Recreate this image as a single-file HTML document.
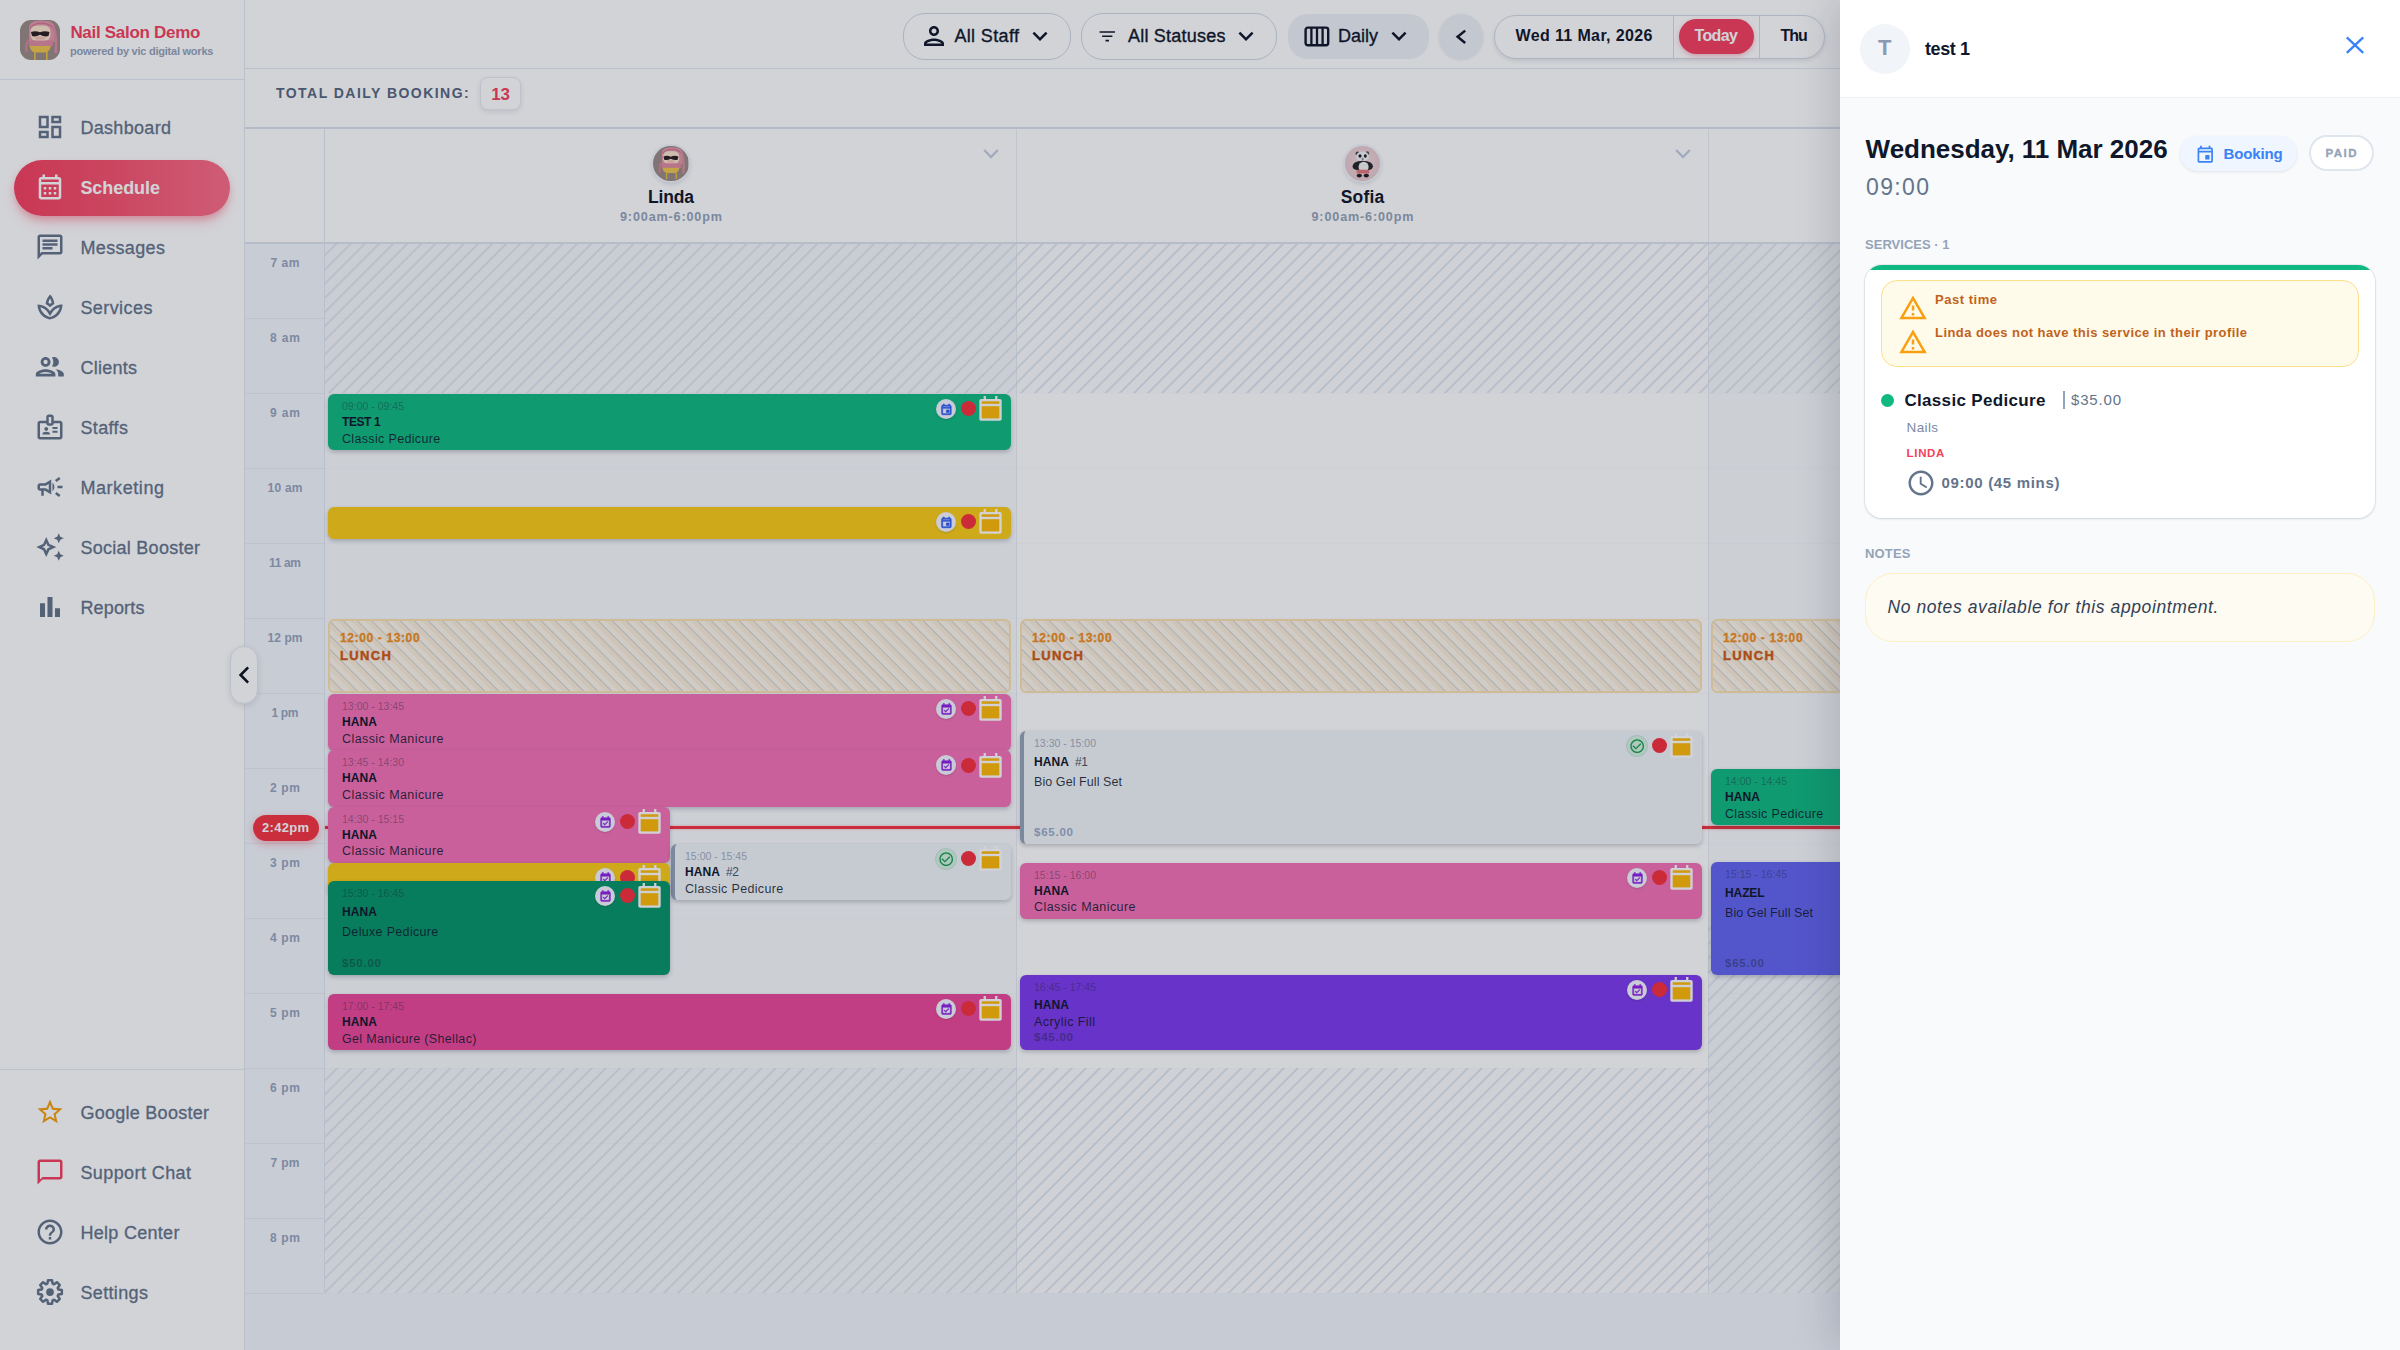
<!DOCTYPE html>
<html lang="en"><head><meta charset="utf-8"><title>Nail Salon Demo - Schedule</title><style>
html,body{margin:0;padding:0;}
body{width:2400px;height:1350px;overflow:hidden;position:relative;background:#fff;font-family:"Liberation Sans", sans-serif;}
.b{position:absolute;}
.ic{position:absolute;display:block;overflow:hidden;}
.t{position:absolute;white-space:nowrap;display:block;}
</style></head><body>
<div class="b" style="left:0px;top:0px;width:244px;height:1350px;background:#fff;"></div>
<div class="b" style="left:244px;top:0px;width:1px;height:1350px;background:#e3e9f2;"></div>
<div class="b" style="left:0px;top:79px;width:244px;height:1px;background:#e3e9f2;"></div>
<div class="b" style="left:0px;top:1069px;width:244px;height:1px;background:#e3e9f2;"></div>
<svg class="ic" style="left:20px;top:20px;width:40px;height:40px;border-radius:11px" viewBox="0 0 40 40"><rect width="40" height="40" fill="#9a8b86"/>
<path d="M9 27V8Q9 .5 20 .5h2Q34.500 .5 34.500 8v14H9z" fill="#e597ab"/>
<path d="M10 8Q15 3.200 21 3.200 28.500 3.200 33.500 8" stroke="#cd7890" stroke-width="1.300" fill="none"/>
<path d="M33.200 6Q37.200 16 35.600 33" stroke="#dd8ea3" stroke-width="2.600" fill="none"/>
<path d="M8.200 20Q5.200 26 6.600 32" stroke="#d98498" stroke-width="2.400" fill="none"/>
<rect x="10.500" y="5.500" width="20" height="15.500" rx="6" fill="#fbe4cc"/>
<path d="M11 12Q15.500 10.300 20 12.300 24.500 10.300 29.500 12l-1 4Q24.500 17.200 20 14.800 15.500 17.200 12 16z" fill="#2a1f22"/>
<ellipse cx="20" cy="18.200" rx="5" ry="1.600" fill="#f0b3b0" opacity=".7"/>
<rect x="9" y="20.500" width="24" height="5.600" fill="#dd8ca1"/>
<path d="M9.500 26H31q-2 6-5.500 6.500H15Q11 32 9.500 26z" fill="#eec64b"/>
<rect x="14" y="32" width="1.700" height="8" fill="#e8c040"/><rect x="26" y="32" width="1.700" height="8" fill="#e8c040"/></svg>
<span class="t" id="t1" style="left:70.40px;top:24.21px;font-size:17px;line-height:17px;color:#f43f5e;font-weight:700;letter-spacing:-0.296px;">Nail Salon Demo</span>
<span class="t" id="t2" style="left:70.00px;top:45.69px;font-size:11px;line-height:11px;color:#94a3b8;font-weight:700;letter-spacing:-0.236px;">powered by vic digital works</span>
<div class="b" style="left:14px;top:160px;width:216px;height:56px;border-radius:28px;background:linear-gradient(90deg,#f43f5e 0%,#f7546f 50%,#fb6d87 100%);box-shadow:0 8px 14px -4px rgba(244,63,94,.38),0 3px 6px rgba(244,63,94,.2);"></div>
<svg class="ic" style="left:35.00px;top:112.40px;width:30px;height:30px" viewBox="0 0 24 24"><path fill="#64748b" d="M19 5v2h-4V5h4M9 5v6H5V5h4m10 8v6h-4v-6h4M9 17v2H5v-2h4M21 3h-8v6h8V3zM11 3H3v10h8V3zm10 8h-8v10h8V11zm-10 4H3v6h8v-6z"/></svg>
<span class="t" id="t3" style="left:80.40px;top:118.76px;font-size:18px;line-height:18px;color:#64748b;letter-spacing:0.316px;-webkit-text-stroke:0.3px #64748b;">Dashboard</span>
<svg class="ic" style="left:35.00px;top:172.40px;width:30px;height:30px" viewBox="0 0 24 24"><path fill="#fff" d="M19 4h-1V2h-2v2H8V2H6v2H5c-1.11 0-1.99.9-1.99 2L3 20c0 1.1.89 2 2 2h14c1.1 0 2-.9 2-2V6c0-1.1-.9-2-2-2zm0 16H5V10h14v10zm0-12H5V6h14v2zM9 14H7v-2h2v2zm4 0h-2v-2h2v2zm4 0h-2v-2h2v2zm-8 4H7v-2h2v2zm4 0h-2v-2h2v2zm4 0h-2v-2h2v2z"/></svg>
<span class="t" id="t4" style="left:80.40px;top:178.76px;font-size:18px;line-height:18px;color:#fff;font-weight:700;letter-spacing:-0.061px;">Schedule</span>
<svg class="ic" style="left:35.00px;top:232.40px;width:30px;height:30px" viewBox="0 0 24 24"><path fill="#64748b" d="M4 4h16v12H5.17L4 17.17V4m0-2c-1.1 0-1.99.9-1.99 2L2 22l4-4h14c1.1 0 2-.9 2-2V4c0-1.1-.9-2-2-2H4zm2 10h8v2H6v-2zm0-3h12v2H6V9zm0-3h12v2H6V6z"/></svg>
<span class="t" id="t5" style="left:80.40px;top:238.76px;font-size:18px;line-height:18px;color:#64748b;letter-spacing:0.366px;-webkit-text-stroke:0.3px #64748b;">Messages</span>
<svg class="ic" style="left:35.00px;top:292.40px;width:30px;height:30px" viewBox="0 0 24 24"><path fill="#64748b" d="M15.490 9.630c-.18-2.790-1.310-5.510-3.430-7.630-2.140 2.140-3.320 4.860-3.550 7.630 1.280.68 2.460 1.560 3.490 2.630 1.030-1.060 2.210-1.940 3.490-2.630zm-3.440-4.440c.63 1.030 1.070 2.180 1.300 3.380-.47.30-.91.63-1.340.98-.42-.34-.87-.67-1.330-.97.25-1.200.71-2.350 1.370-3.390zM12 15.450c-.82-1.250-1.860-2.340-3.060-3.200-.13-.09-.27-.16-.40-.26.13.09.27.17.39.25C6.980 10.830 4.590 10 2 10c0 5.320 3.360 9.820 8.030 11.490.63.23 1.290.40 1.970.51.68-.12 1.330-.29 1.970-.51C18.640 19.820 22 15.320 22 10c-4.180 0-7.850 2.170-10 5.450zm1.320 4.150c-.44.15-.88.27-1.330.37-.44-.09-.87-.21-1.280-.36-3.290-1.180-5.700-3.990-6.450-7.350 1.100.26 2.150.71 3.120 1.330l-.02.01c.13.09.26.18.39.25l.07.04c.99.72 1.840 1.610 2.510 2.650L12 19.100l1.670-2.550c.69-1.050 1.550-1.950 2.530-2.660l.07-.05c.09-.05.18-.11.27-.17l-.01-.02c.98-.65 2.070-1.130 3.210-1.400-.75 3.370-3.150 6.180-6.420 7.350z"/></svg>
<span class="t" id="t6" style="left:80.40px;top:298.76px;font-size:18px;line-height:18px;color:#64748b;letter-spacing:0.424px;-webkit-text-stroke:0.3px #64748b;">Services</span>
<svg class="ic" style="left:33.20px;top:350.40px;width:33.6px;height:33.6px" viewBox="0 0 24 24"><path fill="#64748b" d="M9 13.75c-2.34 0-7 1.17-7 3.5V19h14v-1.75c0-2.33-4.66-3.5-7-3.5zM4.34 17c.84-.58 2.87-1.25 4.66-1.25s3.82.67 4.66 1.25H4.34zM9 12c1.93 0 3.5-1.57 3.5-3.5S10.93 5 9 5 5.5 6.57 5.5 8.5 7.07 12 9 12zm0-5c.83 0 1.5.67 1.5 1.5S9.83 10 9 10s-1.5-.67-1.5-1.5S8.17 7 9 7zm7.04 6.81c1.16.84 1.96 1.96 1.96 3.44V19h4v-1.75c0-2.02-3.5-3.17-5.96-3.44zM15 12c1.93 0 3.5-1.57 3.5-3.5S16.93 5 15 5c-.54 0-1.04.13-1.5.35.63.89 1 1.98 1 3.15s-.37 2.26-1 3.15c.46.22.96.35 1.5.35z"/></svg>
<span class="t" id="t7" style="left:80.40px;top:358.76px;font-size:18px;line-height:18px;color:#64748b;letter-spacing:0.261px;-webkit-text-stroke:0.3px #64748b;">Clients</span>
<svg class="ic" style="left:35.00px;top:412.40px;width:30px;height:30px" viewBox="0 0 24 24"><path fill="#64748b" d="M14 13.5h4V12h-4v1.5zm0 3h4V15h-4v1.5zM20 7h-5V4c0-1.1-.9-2-2-2h-2c-1.1 0-2 .9-2 2v3H4c-1.1 0-2 .9-2 2v11c0 1.1.9 2 2 2h16c1.1 0 2-.9 2-2V9c0-1.1-.9-2-2-2zm-9-3h2v5h-2V4zm9 16H4V9h5c0 1.1.9 2 2 2h2c1.1 0 2-.9 2-2h5v11zM9 15c.83 0 1.5-.67 1.5-1.5S9.83 12 9 12s-1.5.67-1.5 1.5S8.17 15 9 15zm2.08 1.18c-.64-.28-1.34-.43-2.08-.43s-1.44.15-2.08.43c-.56.24-.92.78-.92 1.39V18h6v-.43c0-.61-.36-1.15-.92-1.39z"/></svg>
<span class="t" id="t8" style="left:80.40px;top:418.76px;font-size:18px;line-height:18px;color:#64748b;letter-spacing:0.379px;-webkit-text-stroke:0.3px #64748b;">Staffs</span>
<svg class="ic" style="left:35.00px;top:472.40px;width:30px;height:30px" viewBox="0 0 24 24"><path fill="#64748b" d="M18 11v2h4v-2h-4zm-2 6.61c.96.71 2.21 1.65 3.2 2.39.4-.53.8-1.07 1.2-1.6-.99-.74-2.24-1.68-3.2-2.4-.4.54-.8 1.08-1.2 1.61zM20.4 5.6c-.4-.53-.8-1.07-1.2-1.6-.99.74-2.24 1.68-3.2 2.4.4.53.8 1.07 1.2 1.6.96-.72 2.21-1.65 3.2-2.4zM4 9c-1.1 0-2 .9-2 2v2c0 1.1.9 2 2 2h1v4h2v-4h1l5 3V6L8 9H4zm5.03 1.71L11 9.53v4.94l-1.97-1.18-.48-.29H4v-2h4.55l.48-.29zM15.5 12c0-1.33-.58-2.53-1.5-3.35v6.69c.92-.81 1.5-2.01 1.5-3.34z"/></svg>
<span class="t" id="t9" style="left:80.40px;top:478.76px;font-size:18px;line-height:18px;color:#64748b;letter-spacing:0.571px;-webkit-text-stroke:0.3px #64748b;">Marketing</span>
<svg class="ic" style="left:35.00px;top:532.40px;width:30px;height:30px" viewBox="0 0 24 24"><path fill="#64748b" d="M19 9l1.25-2.75L23 5l-2.75-1.25L19 1l-1.25 2.75L15 5l2.75 1.25L19 9zm0 6l-1.25 2.75L15 19l2.75 1.25L19 23l1.25-2.75L23 19l-2.75-1.25L19 15zm-7.5-5.5L9 4 6.5 9.500 1 12l5.5 2.500L9 20l2.500-5.500L17 12l-5.500-2.500zm-1.510 3.490L9 15.170l-.99-2.180L5.830 12l2.180-.99L9 8.830l.99 2.180 2.180.99-2.180.99z"/></svg>
<span class="t" id="t10" style="left:80.40px;top:538.76px;font-size:18px;line-height:18px;color:#64748b;letter-spacing:0.272px;-webkit-text-stroke:0.3px #64748b;">Social Booster</span>
<svg class="ic" style="left:35.00px;top:592.40px;width:30px;height:30px" viewBox="0 0 24 24"><path fill="#64748b" d="M4 9h4v11H4zm12 4h4v7h-4zm-6-9h4v16h-4z"/></svg>
<span class="t" id="t11" style="left:80.40px;top:598.76px;font-size:18px;line-height:18px;color:#64748b;letter-spacing:0.161px;-webkit-text-stroke:0.3px #64748b;">Reports</span>
<svg class="ic" style="left:35.00px;top:1097.40px;width:30px;height:30px" viewBox="0 0 24 24"><path fill="#f59e0b" d="M22 9.240l-7.190-.62L12 2 9.190 8.630 2 9.240l5.460 4.730L5.820 21 12 17.270 18.180 21l-1.630-7.030L22 9.240zM12 15.400l-3.760 2.270 1-4.280-3.320-2.880 4.380-.38L12 6.100l1.710 4.040 4.380.38-3.320 2.880 1 4.280L12 15.400z"/></svg>
<span class="t" id="t12" style="left:80.40px;top:1103.76px;font-size:18px;line-height:18px;color:#64748b;letter-spacing:0.271px;-webkit-text-stroke:0.3px #64748b;">Google Booster</span>
<svg class="ic" style="left:35.00px;top:1157.40px;width:30px;height:30px" viewBox="0 0 24 24"><path fill="#f43f5e" d="M20 2H4c-1.100 0-2 .9-2 2v18l4-4h14c1.100 0 2-.9 2-2V4c0-1.100-.9-2-2-2zm0 14H6l-2 2V4h16v12z"/></svg>
<span class="t" id="t13" style="left:80.40px;top:1163.76px;font-size:18px;line-height:18px;color:#64748b;letter-spacing:0.412px;-webkit-text-stroke:0.3px #64748b;">Support Chat</span>
<svg class="ic" style="left:35.00px;top:1217.40px;width:30px;height:30px" viewBox="0 0 24 24"><path fill="#64748b" d="M11 18h2v-2h-2v2zm1-16C6.480 2 2 6.480 2 12s4.480 10 10 10 10-4.480 10-10S17.520 2 12 2zm0 18c-4.410 0-8-3.590-8-8s3.590-8 8-8 8 3.590 8 8-3.590 8-8 8zm0-14c-2.210 0-4 1.790-4 4h2c0-1.100.9-2 2-2s2 .9 2 2c0 2-3 1.750-3 5h2c0-2.250 3-2.500 3-5 0-2.210-1.790-4-4-4z"/></svg>
<span class="t" id="t14" style="left:80.40px;top:1223.76px;font-size:18px;line-height:18px;color:#64748b;letter-spacing:0.295px;-webkit-text-stroke:0.3px #64748b;">Help Center</span>
<svg class="ic" style="left:35px;top:1277.40px;width:30px;height:30px" viewBox="0 0 24 24"><path d="M9.93 5.31 L10.38 2.54 L13.62 2.54 L14.07 5.31 L15.27 5.81 L17.54 4.16 L19.84 6.46 L18.19 8.73 L18.69 9.93 L21.46 10.38 L21.46 13.62 L18.69 14.07 L18.19 15.27 L19.84 17.54 L17.54 19.84 L15.27 18.19 L14.07 18.69 L13.62 21.46 L10.38 21.46 L9.93 18.69 L8.73 18.19 L6.46 19.84 L4.16 17.54 L5.81 15.27 L5.31 14.07 L2.54 13.62 L2.54 10.38 L5.31 9.93 L5.81 8.73 L4.16 6.46 L6.46 4.16 L8.73 5.81Z" fill="none" stroke="#64748b" stroke-width="2" stroke-linejoin="round"/><circle cx="12" cy="12" r="3.1" fill="#64748b"/></svg>
<span class="t" id="t15" style="left:80.40px;top:1283.76px;font-size:18px;line-height:18px;color:#64748b;letter-spacing:0.366px;-webkit-text-stroke:0.3px #64748b;">Settings</span>
<div class="b" style="left:245px;top:0px;width:2155px;height:68px;background:#fff;"></div>
<div class="b" style="left:245px;top:68px;width:2155px;height:1px;background:#e3e9f2;"></div>
<div class="b" style="left:245px;top:69px;width:2155px;height:59px;background:#fff;"></div>
<div class="b" style="left:245px;top:127px;width:2155px;height:2px;background:#dbe2ec;box-shadow:0 2px 4px rgba(15,23,42,.07);"></div>
<div class="b" style="left:903px;top:13px;width:168px;height:47px;border-radius:22px;border:1px solid #cfd8e4;box-sizing:border-box;background:#fff;"></div>
<svg class="ic" style="left:918.50px;top:21.00px;width:30px;height:30px" viewBox="0 0 24 24"><path fill="#0f172a" d="M12 6c1.100 0 2 .9 2 2s-.9 2-2 2-2-.9-2-2 .9-2 2-2m0 10c2.700 0 5.800 1.290 6 2H6c.23-.72 3.310-2 6-2m0-12C9.790 4 8 5.790 8 8s1.790 4 4 4 4-1.790 4-4-1.790-4-4-4zm0 10c-2.670 0-8 1.340-8 4v2h16v-2c0-2.660-5.330-4-8-4z"/></svg>
<span class="t" id="t16" style="left:954.40px;top:27.16px;font-size:18px;line-height:18px;color:#0f172a;letter-spacing:0.361px;-webkit-text-stroke:0.35px #0f172a;">All Staff</span>
<svg class="ic" style="left:1025.00px;top:20.60px;width:30px;height:30px" viewBox="0 0 24 24"><path fill="#0f172a" d="M16.590 8.590L12 13.170 7.410 8.590 6 10l6 6 6-6z"/></svg>
<div class="b" style="left:1081px;top:13px;width:196px;height:47px;border-radius:22px;border:1px solid #cfd8e4;box-sizing:border-box;background:#fff;"></div>
<svg class="ic" style="left:1097.00px;top:25.80px;width:20.5px;height:20.5px" viewBox="0 0 24 24"><path fill="#0f172a" d="M10 18h4v-2h-4v2zM3 6v2h18V6H3zm3 7h12v-2H6v2z"/></svg>
<span class="t" id="t17" style="left:1128.00px;top:27.16px;font-size:18px;line-height:18px;color:#0f172a;letter-spacing:0.213px;-webkit-text-stroke:0.35px #0f172a;">All Statuses</span>
<svg class="ic" style="left:1231.00px;top:20.60px;width:30px;height:30px" viewBox="0 0 24 24"><path fill="#0f172a" d="M16.590 8.590L12 13.170 7.410 8.590 6 10l6 6 6-6z"/></svg>
<div class="b" style="left:1288px;top:14px;width:141px;height:45px;border-radius:20px;background:#edf1f7;"></div>
<svg class="ic" style="left:1303px;top:24.5px;width:28px;height:23px" viewBox="0 0 28 23"><rect x="2.6" y="2.6" width="22.6" height="17.6" rx="2.2" fill="none" stroke="#0f172a" stroke-width="2.4"/><path d="M8.4 3v17M14 3v17M19.6 3v17" stroke="#0f172a" stroke-width="2.3"/></svg>
<span class="t" id="t18" style="left:1338.00px;top:27.16px;font-size:18px;line-height:18px;color:#0f172a;letter-spacing:-0.002px;-webkit-text-stroke:0.35px #0f172a;">Daily</span>
<svg class="ic" style="left:1384.00px;top:20.60px;width:30px;height:30px" viewBox="0 0 24 24"><path fill="#0f172a" d="M16.590 8.590L12 13.170 7.410 8.590 6 10l6 6 6-6z"/></svg>
<div class="b" style="left:1439px;top:14px;width:44px;height:45px;border-radius:50%;background:#edf1f7;box-shadow:0 1px 3px rgba(15,23,42,.10);"></div>
<svg class="ic" style="left:1451px;top:26px;width:20px;height:22px" viewBox="0 0 20 22"><polyline points="14.2,4.6 6.6,10.8 14.2,17" fill="none" stroke="#0f172a" stroke-width="2.5" stroke-linecap="butt"/></svg>
<div class="b" style="left:1494px;top:15px;width:331px;height:44px;border-radius:22px;border:1px solid #d3dbe7;box-sizing:border-box;background:#fff;box-shadow:0 2px 4px rgba(15,23,42,.10);"></div>
<div class="b" style="left:1673px;top:16px;width:1px;height:42px;background:#d3dbe7;"></div>
<div class="b" style="left:1759px;top:16px;width:1px;height:42px;background:#d3dbe7;"></div>
<span class="t" id="t19" style="left:1515.60px;top:27.86px;font-size:16px;line-height:16px;color:#0f172a;font-weight:700;letter-spacing:0.363px;">Wed 11 Mar, 2026</span>
<div class="b" style="left:1679px;top:19px;width:75px;height:35px;border-radius:17.5px;background:#f43f5e;box-shadow:0 2px 5px rgba(244,63,94,.35);"></div>
<span class="t" id="t20" style="left:1694.40px;top:28.06px;font-size:16px;line-height:16px;color:#fff;font-weight:700;letter-spacing:-0.585px;">Today</span>
<span class="t" id="t21" style="left:1780.50px;top:27.86px;font-size:16px;line-height:16px;color:#0f172a;font-weight:700;letter-spacing:-0.968px;">Thu</span>
<span class="t" id="t22" style="left:276.00px;top:85.75px;font-size:14px;line-height:14px;color:#586780;font-weight:700;letter-spacing:1.463px;">TOTAL DAILY BOOKING:</span>
<div class="b" style="left:480px;top:77px;width:41px;height:33px;border-radius:8px;background:#fff;border:1px solid #e6ebf2;box-sizing:border-box;box-shadow:0 2px 5px rgba(15,23,42,.10);"></div>
<span class="t" id="t23" style="left:491.30px;top:85.61px;font-size:17px;line-height:17px;color:#f43f5e;font-weight:700;letter-spacing:-0.220px;">13</span>
<div class="b" style="left:245px;top:129px;width:2155px;height:114px;background:#fff;"></div>
<div class="b" style="left:245px;top:243px;width:2155px;height:1107px;background:#f2f6fc;"></div>
<div class="b" style="left:245px;top:243px;width:79px;height:1050px;background:#f3f7fd;"></div>
<div class="b" style="left:325px;top:243px;width:692px;height:1050px;background:#f8fafc;"></div>
<div class="b" style="left:325px;top:243px;width:692px;height:150px;background:repeating-linear-gradient(135deg,rgba(0,0,0,0) 0,rgba(0,0,0,0) 7.4px,#e0e7f0 8px,#e0e7f0 9.5px,rgba(0,0,0,0) 10px),rgba(203,215,228,.05);"></div>
<div class="b" style="left:325px;top:1068px;width:692px;height:225px;background:repeating-linear-gradient(135deg,rgba(0,0,0,0) 0,rgba(0,0,0,0) 7.4px,#e0e7f0 8px,#e0e7f0 9.5px,rgba(0,0,0,0) 10px),rgba(203,215,228,.05);"></div>
<div class="b" style="left:1017px;top:243px;width:691px;height:1050px;background:#fff;"></div>
<div class="b" style="left:1017px;top:243px;width:691px;height:150px;background:repeating-linear-gradient(135deg,rgba(0,0,0,0) 0,rgba(0,0,0,0) 7.4px,#e0e7f0 8px,#e0e7f0 9.5px,rgba(0,0,0,0) 10px),rgba(203,215,228,.05);"></div>
<div class="b" style="left:1017px;top:1068px;width:691px;height:225px;background:repeating-linear-gradient(135deg,rgba(0,0,0,0) 0,rgba(0,0,0,0) 7.4px,#e0e7f0 8px,#e0e7f0 9.5px,rgba(0,0,0,0) 10px),rgba(203,215,228,.05);"></div>
<div class="b" style="left:1708px;top:243px;width:692px;height:1050px;background:#f8fafc;"></div>
<div class="b" style="left:1708px;top:243px;width:692px;height:150px;background:repeating-linear-gradient(135deg,rgba(0,0,0,0) 0,rgba(0,0,0,0) 7.4px,#e0e7f0 8px,#e0e7f0 9.5px,rgba(0,0,0,0) 10px),rgba(203,215,228,.05);"></div>
<div class="b" style="left:1708px;top:918px;width:692px;height:375px;background:repeating-linear-gradient(135deg,rgba(0,0,0,0) 0,rgba(0,0,0,0) 7.4px,#e0e7f0 8px,#e0e7f0 9.5px,rgba(0,0,0,0) 10px),rgba(203,215,228,.05);"></div>
<div class="b" style="left:325px;top:243px;width:2075px;height:1px;background:rgba(203,213,225,.08);"></div>
<div class="b" style="left:245px;top:243px;width:79px;height:1px;background:rgba(203,213,225,.32);"></div>
<div class="b" style="left:325px;top:318px;width:2075px;height:1px;background:rgba(203,213,225,.08);"></div>
<div class="b" style="left:245px;top:318px;width:79px;height:1px;background:rgba(203,213,225,.32);"></div>
<div class="b" style="left:325px;top:393px;width:2075px;height:1px;background:rgba(203,213,225,.08);"></div>
<div class="b" style="left:245px;top:393px;width:79px;height:1px;background:rgba(203,213,225,.32);"></div>
<div class="b" style="left:325px;top:468px;width:2075px;height:1px;background:rgba(203,213,225,.08);"></div>
<div class="b" style="left:245px;top:468px;width:79px;height:1px;background:rgba(203,213,225,.32);"></div>
<div class="b" style="left:325px;top:543px;width:2075px;height:1px;background:rgba(203,213,225,.08);"></div>
<div class="b" style="left:245px;top:543px;width:79px;height:1px;background:rgba(203,213,225,.32);"></div>
<div class="b" style="left:325px;top:618px;width:2075px;height:1px;background:rgba(203,213,225,.08);"></div>
<div class="b" style="left:245px;top:618px;width:79px;height:1px;background:rgba(203,213,225,.32);"></div>
<div class="b" style="left:325px;top:693px;width:2075px;height:1px;background:rgba(203,213,225,.08);"></div>
<div class="b" style="left:245px;top:693px;width:79px;height:1px;background:rgba(203,213,225,.32);"></div>
<div class="b" style="left:325px;top:768px;width:2075px;height:1px;background:rgba(203,213,225,.08);"></div>
<div class="b" style="left:245px;top:768px;width:79px;height:1px;background:rgba(203,213,225,.32);"></div>
<div class="b" style="left:325px;top:843px;width:2075px;height:1px;background:rgba(203,213,225,.08);"></div>
<div class="b" style="left:245px;top:843px;width:79px;height:1px;background:rgba(203,213,225,.32);"></div>
<div class="b" style="left:325px;top:918px;width:2075px;height:1px;background:rgba(203,213,225,.08);"></div>
<div class="b" style="left:245px;top:918px;width:79px;height:1px;background:rgba(203,213,225,.32);"></div>
<div class="b" style="left:325px;top:993px;width:2075px;height:1px;background:rgba(203,213,225,.08);"></div>
<div class="b" style="left:245px;top:993px;width:79px;height:1px;background:rgba(203,213,225,.32);"></div>
<div class="b" style="left:325px;top:1068px;width:2075px;height:1px;background:rgba(203,213,225,.08);"></div>
<div class="b" style="left:245px;top:1068px;width:79px;height:1px;background:rgba(203,213,225,.32);"></div>
<div class="b" style="left:325px;top:1143px;width:2075px;height:1px;background:rgba(203,213,225,.08);"></div>
<div class="b" style="left:245px;top:1143px;width:79px;height:1px;background:rgba(203,213,225,.32);"></div>
<div class="b" style="left:325px;top:1218px;width:2075px;height:1px;background:rgba(203,213,225,.08);"></div>
<div class="b" style="left:245px;top:1218px;width:79px;height:1px;background:rgba(203,213,225,.32);"></div>
<div class="b" style="left:325px;top:1293px;width:2075px;height:1px;background:rgba(203,213,225,.08);"></div>
<div class="b" style="left:245px;top:1293px;width:79px;height:1px;background:rgba(203,213,225,.32);"></div>
<div class="b" style="left:245px;top:242px;width:2155px;height:2px;background:#dde4ee;"></div>
<div class="b" style="left:324px;top:129px;width:1px;height:1164px;background:#e1e7f0;"></div>
<div class="b" style="left:1016px;top:129px;width:1px;height:1164px;background:rgba(203,213,225,.38);"></div>
<div class="b" style="left:1708px;top:129px;width:1px;height:1164px;background:rgba(203,213,225,.38);"></div>
<svg class="ic" style="left:653.25px;top:145.75px;width:35.5px;height:35.5px;border-radius:50%;box-shadow:0 0 0 2px rgba(241,245,251,.9),0 2px 5px rgba(15,23,42,.22)" viewBox="-2 -1 44 44"><rect x="-2" y="-1" width="44" height="44" fill="#9a8b86"/>
<path d="M9 27V8Q9 .5 20 .5h2Q34.500 .5 34.500 8v14H9z" fill="#e597ab"/>
<path d="M10 8Q15 3.200 21 3.200 28.500 3.200 33.500 8" stroke="#cd7890" stroke-width="1.300" fill="none"/>
<path d="M33.200 6Q37.200 16 35.600 33" stroke="#dd8ea3" stroke-width="2.600" fill="none"/>
<path d="M8.200 20Q5.200 26 6.600 32" stroke="#d98498" stroke-width="2.400" fill="none"/>
<rect x="10.500" y="5.500" width="20" height="15.500" rx="6" fill="#fbe4cc"/>
<path d="M11 12Q15.500 10.300 20 12.300 24.500 10.300 29.500 12l-1 4Q24.500 17.200 20 14.800 15.500 17.200 12 16z" fill="#2a1f22"/>
<ellipse cx="20" cy="18.200" rx="5" ry="1.600" fill="#f0b3b0" opacity=".7"/>
<rect x="9" y="20.500" width="24" height="5.600" fill="#dd8ca1"/>
<path d="M9.500 26H31q-2 6-5.500 6.500H15Q11 32 9.500 26z" fill="#eec64b"/>
<rect x="14" y="32" width="1.700" height="8" fill="#e8c040"/><rect x="26" y="32" width="1.700" height="8" fill="#e8c040"/></svg>
<svg class="ic" style="left:1344.75px;top:145.75px;width:35.5px;height:35.5px;border-radius:50%;box-shadow:0 0 0 2px rgba(241,245,251,.9),0 2px 5px rgba(15,23,42,.22)" viewBox="0 0 35.500 35.500">
<defs><radialGradient id="sg" cx="50%" cy="45%" r="60%"><stop offset="0" stop-color="#f3dcdf"/><stop offset="1" stop-color="#e6c6ca"/></radialGradient></defs>
<rect width="35.500" height="35.500" fill="url(#sg)"/>
<circle cx="12.600" cy="7.600" r="2.100" fill="#4a4a4e"/><circle cx="22.300" cy="7.200" r="1.900" fill="#55555a"/>
<ellipse cx="17.500" cy="10.300" rx="6.200" ry="4.900" fill="#f1f3f5"/>
<ellipse cx="15" cy="10" rx="1.600" ry="1.800" fill="#1c1c1f"/><ellipse cx="20.300" cy="10" rx="1.500" ry="1.800" fill="#1c1c1f"/><ellipse cx="17.700" cy="13" rx="1" ry=".7" fill="#555"/>
<path d="M7.500 20.500Q8 15 17.500 14.800 27.500 15 28 20.500 27.500 23.500 24 24H11.500Q8 23.500 7.500 20.500z" fill="#26262a"/>
<ellipse cx="18.600" cy="21" rx="5" ry="5.200" fill="#f3f3f1"/>
<rect x="11.600" y="23.800" width="12.600" height="3.800" rx="1" fill="#e5757b"/>
<ellipse cx="14.300" cy="29.600" rx="2.600" ry="1.900" fill="#1f1f22"/><ellipse cx="21.300" cy="29.600" rx="2.600" ry="1.900" fill="#1f1f22"/></svg>
<span class="t" id="t24" style="left:648.00px;top:188.79px;font-size:17.5px;line-height:17.5px;color:#0f172a;font-weight:700;letter-spacing:-0.170px;">Linda</span>
<span class="t" id="t25" style="left:620.00px;top:211.33px;font-size:12.6px;line-height:12.6px;color:#94a3b8;font-weight:700;letter-spacing:0.857px;">9:00am-6:00pm</span>
<span class="t" id="t26" style="left:1340.80px;top:188.79px;font-size:17.5px;line-height:17.5px;color:#0f172a;font-weight:700;letter-spacing:0.151px;">Sofia</span>
<span class="t" id="t27" style="left:1311.50px;top:211.33px;font-size:12.6px;line-height:12.6px;color:#94a3b8;font-weight:700;letter-spacing:0.857px;">9:00am-6:00pm</span>
<svg class="ic" style="left:981.2px;top:145px;width:20px;height:18px" viewBox="0 0 20 18"><polyline points="3.2,5 10,12 16.8,5" fill="none" stroke="#c3cee0" stroke-width="2.3"/></svg>
<svg class="ic" style="left:1672.5px;top:145px;width:20px;height:18px" viewBox="0 0 20 18"><polyline points="3.2,5 10,12 16.8,5" fill="none" stroke="#c3cee0" stroke-width="2.3"/></svg>
<span class="t" id="t28" style="left:270.50px;top:257.24px;font-size:12px;line-height:12px;color:#97a4bc;font-weight:700;letter-spacing:0.547px;">7 am</span>
<span class="t" id="t29" style="left:270.00px;top:332.24px;font-size:12px;line-height:12px;color:#97a4bc;font-weight:700;letter-spacing:0.880px;">8 am</span>
<span class="t" id="t30" style="left:270.00px;top:407.24px;font-size:12px;line-height:12px;color:#97a4bc;font-weight:700;letter-spacing:0.880px;">9 am</span>
<span class="t" id="t31" style="left:267.50px;top:482.24px;font-size:12px;line-height:12px;color:#97a4bc;font-weight:700;letter-spacing:0.243px;">10 am</span>
<span class="t" id="t32" style="left:269.00px;top:557.24px;font-size:12px;line-height:12px;color:#97a4bc;font-weight:700;letter-spacing:-0.344px;">11 am</span>
<span class="t" id="t33" style="left:267.50px;top:632.24px;font-size:12px;line-height:12px;color:#97a4bc;font-weight:700;letter-spacing:0.078px;">12 pm</span>
<span class="t" id="t34" style="left:271.50px;top:707.24px;font-size:12px;line-height:12px;color:#97a4bc;font-weight:700;letter-spacing:-0.339px;">1 pm</span>
<span class="t" id="t35" style="left:270.00px;top:782.24px;font-size:12px;line-height:12px;color:#97a4bc;font-weight:700;letter-spacing:0.661px;">2 pm</span>
<span class="t" id="t36" style="left:270.00px;top:857.24px;font-size:12px;line-height:12px;color:#97a4bc;font-weight:700;letter-spacing:0.661px;">3 pm</span>
<span class="t" id="t37" style="left:270.00px;top:932.24px;font-size:12px;line-height:12px;color:#97a4bc;font-weight:700;letter-spacing:0.661px;">4 pm</span>
<span class="t" id="t38" style="left:270.00px;top:1007.24px;font-size:12px;line-height:12px;color:#97a4bc;font-weight:700;letter-spacing:0.661px;">5 pm</span>
<span class="t" id="t39" style="left:270.00px;top:1082.24px;font-size:12px;line-height:12px;color:#97a4bc;font-weight:700;letter-spacing:0.661px;">6 pm</span>
<span class="t" id="t40" style="left:270.50px;top:1157.24px;font-size:12px;line-height:12px;color:#97a4bc;font-weight:700;letter-spacing:0.328px;">7 pm</span>
<span class="t" id="t41" style="left:270.00px;top:1232.24px;font-size:12px;line-height:12px;color:#97a4bc;font-weight:700;letter-spacing:0.661px;">8 pm</span>
<div class="b" style="left:325px;top:826.2px;width:2075px;height:2.4px;background:#f5333f;box-shadow:0 0 3px rgba(245,51,63,.35);"></div>
<div class="b" style="left:328px;top:394px;width:683px;height:56px;border-radius:6px;background:#10b981;box-shadow:0 2px 4px rgba(15,23,42,.22);"></div><div class="b" style="left:936px;top:399px;width:20px;height:20px;border-radius:50%;background:#f4f6ff;box-shadow:0 1px 2px rgba(0,0,0,.15);"></div><svg class="ic" style="left:939.60px;top:403.00px;width:12.8px;height:12.8px" viewBox="0 0 24 24"><path fill="#2b59f5" d="M19 4h-1V2h-2v2H8V2H6v2H5c-1.110 0-1.990.9-1.990 2L3 20c0 1.100.89 2 2 2h14c1.100 0 2-.9 2-2V6c0-1.100-.9-2-2-2zm0 16H5V10h14v10zm0-12H5V6h14v2zm-7 5h5v5h-5z" stroke="#2b59f5" stroke-width="1.1"/></svg><div class="b" style="left:961.2px;top:401.3px;width:15px;height:15px;border-radius:50%;background:#f7303d;"></div><svg class="ic" style="left:979.00px;top:396.20px;width:23px;height:25px" viewBox="0 0 23 25">
<rect x="4.6" y="0" width="2.3" height="4" fill="#fff" fill-opacity=".97"/><rect x="16.100" y="0" width="2.3" height="4" fill="#fff" fill-opacity=".97"/>
<rect x="0.3" y="2.900" width="22.400" height="21.800" rx="1.800" fill="#fff" fill-opacity=".97"/>
<rect x="2.700" y="5.300" width="17.600" height="2.500" fill="#fdb905"/><rect x="2.700" y="10.200" width="17.600" height="12.200" fill="#fdb905"/></svg><span class="t" id="t42" style="left:342.00px;top:401.11px;font-size:10.5px;line-height:10.5px;color:rgba(30,41,59,.42);letter-spacing:0.010px;">09:00 - 09:45</span><span class="t" id="t43" style="left:342.00px;top:416.14px;font-size:12px;line-height:12px;color:#0f172a;font-weight:700;letter-spacing:-0.417px;">TEST 1</span><span class="t" id="t44" style="left:342.00px;top:432.92px;font-size:12.5px;line-height:12.5px;color:rgba(15,23,42,.88);letter-spacing:0.341px;">Classic Pedicure</span>
<div class="b" style="left:328px;top:507px;width:683px;height:32px;border-radius:6px;background:#facc15;box-shadow:0 2px 4px rgba(15,23,42,.22);"></div><div class="b" style="left:936px;top:512px;width:20px;height:20px;border-radius:50%;background:#f4f6ff;box-shadow:0 1px 2px rgba(0,0,0,.15);"></div><svg class="ic" style="left:939.60px;top:516.00px;width:12.8px;height:12.8px" viewBox="0 0 24 24"><path fill="#2b59f5" d="M19 4h-1V2h-2v2H8V2H6v2H5c-1.110 0-1.990.9-1.990 2L3 20c0 1.100.89 2 2 2h14c1.100 0 2-.9 2-2V6c0-1.100-.9-2-2-2zm0 16H5V10h14v10zm0-12H5V6h14v2zm-7 5h5v5h-5z" stroke="#2b59f5" stroke-width="1.1"/></svg><div class="b" style="left:961.2px;top:514.3px;width:15px;height:15px;border-radius:50%;background:#f7303d;"></div><svg class="ic" style="left:979.00px;top:509.20px;width:23px;height:25px" viewBox="0 0 23 25">
<rect x="4.6" y="0" width="2.3" height="4" fill="#fff" fill-opacity=".97"/><rect x="16.100" y="0" width="2.3" height="4" fill="#fff" fill-opacity=".97"/>
<rect x="0.3" y="2.900" width="22.400" height="21.800" rx="1.800" fill="#fff" fill-opacity=".97"/>
<rect x="2.700" y="5.300" width="17.600" height="2.500" fill="#fdb905"/><rect x="2.700" y="10.200" width="17.600" height="12.200" fill="#fdb905"/></svg>
<div class="b" style="left:328px;top:619px;width:683px;height:74px;border-radius:6px;border:2px solid #fae3b3;box-sizing:border-box;background:repeating-linear-gradient(45deg,#fdf5e8 0,#fdf5e8 4.2px,#fbedd8 4.6px,#fbedd8 8.3px,#dcdad5 8.7px,#dcdad5 9.7px,#fdf5e8 10px);"></div><span class="t" id="t45" style="left:340.00px;top:631.84px;font-size:12px;line-height:12px;color:#f28f1c;font-weight:700;letter-spacing:0.629px;-webkit-text-stroke:0.3px #f28f1c;">12:00 - 13:00</span><span class="t" id="t46" style="left:340.00px;top:648.70px;font-size:13px;line-height:13px;color:#d05a12;font-weight:700;letter-spacing:1.375px;-webkit-text-stroke:0.45px #d05a12;">LUNCH</span>
<div class="b" style="left:328px;top:694px;width:683px;height:56.6px;border-radius:6px;background:#f472b6;box-shadow:0 2px 4px rgba(15,23,42,.22);"></div><div class="b" style="left:936px;top:699px;width:20px;height:20px;border-radius:50%;background:#f4f6ff;box-shadow:0 1px 2px rgba(0,0,0,.15);"></div><svg class="ic" style="left:939.50px;top:703.00px;width:13px;height:13px" viewBox="0 0 24 24"><path fill="#9020e6" d="M16.530 11.060L15.470 10l-4.880 4.880-2.120-2.120-1.060 1.060L10.590 17l5.940-5.940zM19 3h-1V1h-2v2H8V1H6v2H5c-1.110 0-1.990.9-1.990 2L3 19c0 1.100.89 2 2 2h14c1.100 0 2-.9 2-2V5c0-1.100-.9-2-2-2zm0 16H5V8h14v11z" stroke="#9020e6" stroke-width="0.9"/></svg><div class="b" style="left:961.2px;top:701.3px;width:15px;height:15px;border-radius:50%;background:#f7303d;"></div><svg class="ic" style="left:979.00px;top:696.20px;width:23px;height:25px" viewBox="0 0 23 25">
<rect x="4.6" y="0" width="2.3" height="4" fill="#fff" fill-opacity=".97"/><rect x="16.100" y="0" width="2.3" height="4" fill="#fff" fill-opacity=".97"/>
<rect x="0.3" y="2.900" width="22.400" height="21.800" rx="1.800" fill="#fff" fill-opacity=".97"/>
<rect x="2.700" y="5.300" width="17.600" height="2.500" fill="#fdb905"/><rect x="2.700" y="10.200" width="17.600" height="12.200" fill="#fdb905"/></svg><span class="t" id="t47" style="left:342.00px;top:701.11px;font-size:10.5px;line-height:10.5px;color:rgba(30,41,59,.42);letter-spacing:0.010px;">13:00 - 13:45</span><span class="t" id="t48" style="left:342.00px;top:716.14px;font-size:12px;line-height:12px;color:#0f172a;font-weight:700;letter-spacing:0.109px;">HANA</span><span class="t" id="t49" style="left:342.00px;top:732.92px;font-size:12.5px;line-height:12.5px;color:rgba(15,23,42,.88);letter-spacing:0.422px;">Classic Manicure</span>
<div class="b" style="left:328px;top:750.3px;width:683px;height:56.6px;border-radius:6px;background:#f472b6;box-shadow:0 2px 4px rgba(15,23,42,.22);"></div><div class="b" style="left:936px;top:755.3px;width:20px;height:20px;border-radius:50%;background:#f4f6ff;box-shadow:0 1px 2px rgba(0,0,0,.15);"></div><svg class="ic" style="left:939.50px;top:759.30px;width:13px;height:13px" viewBox="0 0 24 24"><path fill="#9020e6" d="M16.530 11.060L15.470 10l-4.880 4.880-2.120-2.120-1.060 1.060L10.590 17l5.940-5.940zM19 3h-1V1h-2v2H8V1H6v2H5c-1.110 0-1.990.9-1.990 2L3 19c0 1.100.89 2 2 2h14c1.100 0 2-.9 2-2V5c0-1.100-.9-2-2-2zm0 16H5V8h14v11z" stroke="#9020e6" stroke-width="0.9"/></svg><div class="b" style="left:961.2px;top:757.5999999999999px;width:15px;height:15px;border-radius:50%;background:#f7303d;"></div><svg class="ic" style="left:979.00px;top:752.50px;width:23px;height:25px" viewBox="0 0 23 25">
<rect x="4.6" y="0" width="2.3" height="4" fill="#fff" fill-opacity=".97"/><rect x="16.100" y="0" width="2.3" height="4" fill="#fff" fill-opacity=".97"/>
<rect x="0.3" y="2.900" width="22.400" height="21.800" rx="1.800" fill="#fff" fill-opacity=".97"/>
<rect x="2.700" y="5.300" width="17.600" height="2.500" fill="#fdb905"/><rect x="2.700" y="10.200" width="17.600" height="12.200" fill="#fdb905"/></svg><span class="t" id="t50" style="left:342.00px;top:757.41px;font-size:10.5px;line-height:10.5px;color:rgba(30,41,59,.42);letter-spacing:0.010px;">13:45 - 14:30</span><span class="t" id="t51" style="left:342.00px;top:772.44px;font-size:12px;line-height:12px;color:#0f172a;font-weight:700;letter-spacing:0.109px;">HANA</span><span class="t" id="t52" style="left:342.00px;top:789.22px;font-size:12.5px;line-height:12.5px;color:rgba(15,23,42,.88);letter-spacing:0.422px;">Classic Manicure</span>
<div class="b" style="left:328px;top:806.5px;width:342px;height:56px;border-radius:6px;background:#f472b6;box-shadow:0 2px 4px rgba(15,23,42,.22);"></div><div class="b" style="left:595px;top:811.5px;width:20px;height:20px;border-radius:50%;background:#f4f6ff;box-shadow:0 1px 2px rgba(0,0,0,.15);"></div><svg class="ic" style="left:598.50px;top:815.50px;width:13px;height:13px" viewBox="0 0 24 24"><path fill="#9020e6" d="M16.530 11.060L15.470 10l-4.880 4.880-2.120-2.120-1.060 1.060L10.590 17l5.940-5.940zM19 3h-1V1h-2v2H8V1H6v2H5c-1.110 0-1.990.9-1.990 2L3 19c0 1.100.89 2 2 2h14c1.100 0 2-.9 2-2V5c0-1.100-.9-2-2-2zm0 16H5V8h14v11z" stroke="#9020e6" stroke-width="0.9"/></svg><div class="b" style="left:620.2px;top:813.8px;width:15px;height:15px;border-radius:50%;background:#f7303d;"></div><svg class="ic" style="left:638.00px;top:808.70px;width:23px;height:25px" viewBox="0 0 23 25">
<rect x="4.6" y="0" width="2.3" height="4" fill="#fff" fill-opacity=".97"/><rect x="16.100" y="0" width="2.3" height="4" fill="#fff" fill-opacity=".97"/>
<rect x="0.3" y="2.900" width="22.400" height="21.800" rx="1.800" fill="#fff" fill-opacity=".97"/>
<rect x="2.700" y="5.300" width="17.600" height="2.500" fill="#fdb905"/><rect x="2.700" y="10.200" width="17.600" height="12.200" fill="#fdb905"/></svg><span class="t" id="t53" style="left:342.00px;top:813.61px;font-size:10.5px;line-height:10.5px;color:rgba(30,41,59,.42);letter-spacing:0.010px;">14:30 - 15:15</span><span class="t" id="t54" style="left:342.00px;top:828.64px;font-size:12px;line-height:12px;color:#0f172a;font-weight:700;letter-spacing:0.109px;">HANA</span><span class="t" id="t55" style="left:342.00px;top:845.42px;font-size:12.5px;line-height:12.5px;color:rgba(15,23,42,.88);letter-spacing:0.422px;">Classic Manicure</span>
<div class="b" style="left:671px;top:844px;width:340px;height:56px;border-radius:6px;background:#f1f5f9;box-shadow:0 2px 4px rgba(15,23,42,.22);border-left:4px solid #94a3b8;box-sizing:border-box;"></div><div class="b" style="left:936px;top:849px;width:20px;height:20px;border-radius:50%;background:#d3f3df;box-shadow:0 0 0 1px rgba(34,160,90,.18);"></div><svg class="ic" style="left:937.80px;top:850.80px;width:16.4px;height:16.4px" viewBox="0 0 24 24"><path fill="#1f9d55" d="M16.590 7.580L10 14.170l-3.590-3.580L5 12l5 5 8-8zM12 2C6.480 2 2 6.480 2 12s4.480 10 10 10 10-4.480 10-10S17.520 2 12 2zm0 18c-4.420 0-8-3.580-8-8s3.580-8 8-8 8 3.580 8 8-3.580 8-8 8z"/></svg><div class="b" style="left:961.2px;top:851.3px;width:15px;height:15px;border-radius:50%;background:#f7303d;"></div><svg class="ic" style="left:979.00px;top:846.20px;width:23px;height:25px" viewBox="0 0 23 25">
<rect x="4.6" y="0" width="2.3" height="4" fill="#fff" fill-opacity=".97"/><rect x="16.100" y="0" width="2.3" height="4" fill="#fff" fill-opacity=".97"/>
<rect x="0.3" y="2.900" width="22.400" height="21.800" rx="1.800" fill="#fff" fill-opacity=".97"/>
<rect x="2.700" y="5.300" width="17.600" height="2.500" fill="#fdb905"/><rect x="2.700" y="10.200" width="17.600" height="12.200" fill="#fdb905"/></svg><span class="t" id="t56" style="left:685.00px;top:851.11px;font-size:10.5px;line-height:10.5px;color:#a3adc0;letter-spacing:0.010px;">15:00 - 15:45</span><span class="t" id="t57" style="left:685.00px;top:866.14px;font-size:12px;line-height:12px;color:#0f172a;font-weight:700;letter-spacing:0.109px;">HANA</span><span class="t" id="t58" style="left:726.00px;top:866.14px;font-size:12px;line-height:12px;color:#475569;letter-spacing:-0.359px;">#2</span><span class="t" id="t59" style="left:685.00px;top:882.92px;font-size:12.5px;line-height:12.5px;color:rgba(15,23,42,.88);letter-spacing:0.341px;">Classic Pedicure</span>
<div class="b" style="left:328px;top:862.5px;width:342px;height:32px;border-radius:6px;background:#facc15;box-shadow:0 2px 4px rgba(15,23,42,.22);"></div><div class="b" style="left:595px;top:867.5px;width:20px;height:20px;border-radius:50%;background:#f4f6ff;box-shadow:0 1px 2px rgba(0,0,0,.15);"></div><svg class="ic" style="left:598.50px;top:871.50px;width:13px;height:13px" viewBox="0 0 24 24"><path fill="#9020e6" d="M16.530 11.060L15.470 10l-4.880 4.880-2.120-2.120-1.060 1.060L10.590 17l5.940-5.940zM19 3h-1V1h-2v2H8V1H6v2H5c-1.110 0-1.990.9-1.990 2L3 19c0 1.100.89 2 2 2h14c1.100 0 2-.9 2-2V5c0-1.100-.9-2-2-2zm0 16H5V8h14v11z" stroke="#9020e6" stroke-width="0.9"/></svg><div class="b" style="left:620.2px;top:869.8px;width:15px;height:15px;border-radius:50%;background:#f7303d;"></div><svg class="ic" style="left:638.00px;top:864.70px;width:23px;height:25px" viewBox="0 0 23 25">
<rect x="4.6" y="0" width="2.3" height="4" fill="#fff" fill-opacity=".97"/><rect x="16.100" y="0" width="2.3" height="4" fill="#fff" fill-opacity=".97"/>
<rect x="0.3" y="2.900" width="22.400" height="21.800" rx="1.800" fill="#fff" fill-opacity=".97"/>
<rect x="2.700" y="5.300" width="17.600" height="2.500" fill="#fdb905"/><rect x="2.700" y="10.200" width="17.600" height="12.200" fill="#fdb905"/></svg>
<div class="b" style="left:328px;top:881px;width:342px;height:94px;border-radius:6px;background:#059669;box-shadow:0 2px 4px rgba(15,23,42,.22);"></div><div class="b" style="left:595px;top:886px;width:20px;height:20px;border-radius:50%;background:#f4f6ff;box-shadow:0 1px 2px rgba(0,0,0,.15);"></div><svg class="ic" style="left:598.50px;top:890.00px;width:13px;height:13px" viewBox="0 0 24 24"><path fill="#9020e6" d="M16.530 11.060L15.470 10l-4.880 4.880-2.120-2.120-1.060 1.060L10.590 17l5.940-5.940zM19 3h-1V1h-2v2H8V1H6v2H5c-1.110 0-1.990.9-1.990 2L3 19c0 1.100.89 2 2 2h14c1.100 0 2-.9 2-2V5c0-1.100-.9-2-2-2zm0 16H5V8h14v11z" stroke="#9020e6" stroke-width="0.9"/></svg><div class="b" style="left:620.2px;top:888.3px;width:15px;height:15px;border-radius:50%;background:#f7303d;"></div><svg class="ic" style="left:638.00px;top:883.20px;width:23px;height:25px" viewBox="0 0 23 25">
<rect x="4.6" y="0" width="2.3" height="4" fill="#fff" fill-opacity=".97"/><rect x="16.100" y="0" width="2.3" height="4" fill="#fff" fill-opacity=".97"/>
<rect x="0.3" y="2.900" width="22.400" height="21.800" rx="1.800" fill="#fff" fill-opacity=".97"/>
<rect x="2.700" y="5.300" width="17.600" height="2.500" fill="#fdb905"/><rect x="2.700" y="10.200" width="17.600" height="12.200" fill="#fdb905"/></svg><span class="t" id="t60" style="left:342.00px;top:888.11px;font-size:10.5px;line-height:10.5px;color:rgba(30,41,59,.42);letter-spacing:0.010px;">15:30 - 16:45</span><span class="t" id="t61" style="left:342.00px;top:906.14px;font-size:12px;line-height:12px;color:#0f172a;font-weight:700;letter-spacing:0.109px;">HANA</span><span class="t" id="t62" style="left:342.00px;top:925.92px;font-size:12.5px;line-height:12.5px;color:rgba(15,23,42,.88);letter-spacing:0.327px;">Deluxe Pedicure</span><span class="t" id="t63" style="left:342.00px;top:957.18px;font-size:11.6px;line-height:11.6px;color:rgba(30,41,59,.45);font-weight:700;letter-spacing:0.707px;">$50.00</span>
<div class="b" style="left:328px;top:994px;width:683px;height:56px;border-radius:6px;background:#ec4899;box-shadow:0 2px 4px rgba(15,23,42,.22);"></div><div class="b" style="left:936px;top:999px;width:20px;height:20px;border-radius:50%;background:#f4f6ff;box-shadow:0 1px 2px rgba(0,0,0,.15);"></div><svg class="ic" style="left:939.50px;top:1003.00px;width:13px;height:13px" viewBox="0 0 24 24"><path fill="#9020e6" d="M16.530 11.060L15.470 10l-4.880 4.880-2.120-2.120-1.060 1.060L10.590 17l5.940-5.940zM19 3h-1V1h-2v2H8V1H6v2H5c-1.110 0-1.990.9-1.990 2L3 19c0 1.100.89 2 2 2h14c1.100 0 2-.9 2-2V5c0-1.100-.9-2-2-2zm0 16H5V8h14v11z" stroke="#9020e6" stroke-width="0.9"/></svg><div class="b" style="left:961.2px;top:1001.3px;width:15px;height:15px;border-radius:50%;background:#f7303d;"></div><svg class="ic" style="left:979.00px;top:996.20px;width:23px;height:25px" viewBox="0 0 23 25">
<rect x="4.6" y="0" width="2.3" height="4" fill="#fff" fill-opacity=".97"/><rect x="16.100" y="0" width="2.3" height="4" fill="#fff" fill-opacity=".97"/>
<rect x="0.3" y="2.900" width="22.400" height="21.800" rx="1.800" fill="#fff" fill-opacity=".97"/>
<rect x="2.700" y="5.300" width="17.600" height="2.500" fill="#fdb905"/><rect x="2.700" y="10.200" width="17.600" height="12.200" fill="#fdb905"/></svg><span class="t" id="t64" style="left:342.00px;top:1001.11px;font-size:10.5px;line-height:10.5px;color:rgba(30,41,59,.42);letter-spacing:0.010px;">17:00 - 17:45</span><span class="t" id="t65" style="left:342.00px;top:1016.14px;font-size:12px;line-height:12px;color:#0f172a;font-weight:700;letter-spacing:0.109px;">HANA</span><span class="t" id="t66" style="left:342.00px;top:1032.92px;font-size:12.5px;line-height:12.5px;color:rgba(15,23,42,.88);letter-spacing:0.346px;">Gel Manicure (Shellac)</span>
<div class="b" style="left:1020px;top:619px;width:682px;height:74px;border-radius:6px;border:2px solid #fae3b3;box-sizing:border-box;background:repeating-linear-gradient(45deg,#fdf5e8 0,#fdf5e8 4.2px,#fbedd8 4.6px,#fbedd8 8.3px,#dcdad5 8.7px,#dcdad5 9.7px,#fdf5e8 10px);"></div><span class="t" id="t67" style="left:1032.00px;top:631.84px;font-size:12px;line-height:12px;color:#f28f1c;font-weight:700;letter-spacing:0.629px;-webkit-text-stroke:0.3px #f28f1c;">12:00 - 13:00</span><span class="t" id="t68" style="left:1032.00px;top:648.70px;font-size:13px;line-height:13px;color:#d05a12;font-weight:700;letter-spacing:1.375px;-webkit-text-stroke:0.45px #d05a12;">LUNCH</span>
<div class="b" style="left:1020px;top:731px;width:682px;height:112.5px;border-radius:6px;background:#f1f5f9;box-shadow:0 2px 4px rgba(15,23,42,.22);border-left:4px solid #94a3b8;box-sizing:border-box;"></div><div class="b" style="left:1627px;top:736px;width:20px;height:20px;border-radius:50%;background:#d3f3df;box-shadow:0 0 0 1px rgba(34,160,90,.18);"></div><svg class="ic" style="left:1628.80px;top:737.80px;width:16.4px;height:16.4px" viewBox="0 0 24 24"><path fill="#1f9d55" d="M16.590 7.580L10 14.170l-3.590-3.580L5 12l5 5 8-8zM12 2C6.480 2 2 6.480 2 12s4.480 10 10 10 10-4.480 10-10S17.520 2 12 2zm0 18c-4.420 0-8-3.580-8-8s3.580-8 8-8 8 3.580 8 8-3.580 8-8 8z"/></svg><div class="b" style="left:1652.2px;top:738.3px;width:15px;height:15px;border-radius:50%;background:#f7303d;"></div><svg class="ic" style="left:1670.00px;top:733.20px;width:23px;height:25px" viewBox="0 0 23 25">
<rect x="4.6" y="0" width="2.3" height="4" fill="#fff" fill-opacity=".97"/><rect x="16.100" y="0" width="2.3" height="4" fill="#fff" fill-opacity=".97"/>
<rect x="0.3" y="2.900" width="22.400" height="21.800" rx="1.800" fill="#fff" fill-opacity=".97"/>
<rect x="2.700" y="5.300" width="17.600" height="2.500" fill="#fdb905"/><rect x="2.700" y="10.200" width="17.600" height="12.200" fill="#fdb905"/></svg><span class="t" id="t69" style="left:1034.00px;top:738.11px;font-size:10.5px;line-height:10.5px;color:#a3adc0;letter-spacing:0.010px;">13:30 - 15:00</span><span class="t" id="t70" style="left:1034.00px;top:756.14px;font-size:12px;line-height:12px;color:#0f172a;font-weight:700;letter-spacing:0.109px;">HANA</span><span class="t" id="t71" style="left:1075.00px;top:756.14px;font-size:12px;line-height:12px;color:#475569;letter-spacing:-0.359px;">#1</span><span class="t" id="t72" style="left:1034.00px;top:775.92px;font-size:12.5px;line-height:12.5px;color:rgba(15,23,42,.88);letter-spacing:0.077px;">Bio Gel Full Set</span><span class="t" id="t73" style="left:1034.00px;top:825.68px;font-size:11.6px;line-height:11.6px;color:#9aabc9;font-weight:700;letter-spacing:0.707px;">$65.00</span>
<div class="b" style="left:1020px;top:862.5px;width:682px;height:56px;border-radius:6px;background:#f472b6;box-shadow:0 2px 4px rgba(15,23,42,.22);"></div><div class="b" style="left:1627px;top:867.5px;width:20px;height:20px;border-radius:50%;background:#f4f6ff;box-shadow:0 1px 2px rgba(0,0,0,.15);"></div><svg class="ic" style="left:1630.50px;top:871.50px;width:13px;height:13px" viewBox="0 0 24 24"><path fill="#9020e6" d="M16.530 11.060L15.470 10l-4.880 4.880-2.120-2.120-1.060 1.060L10.590 17l5.940-5.940zM19 3h-1V1h-2v2H8V1H6v2H5c-1.110 0-1.990.9-1.990 2L3 19c0 1.100.89 2 2 2h14c1.100 0 2-.9 2-2V5c0-1.100-.9-2-2-2zm0 16H5V8h14v11z" stroke="#9020e6" stroke-width="0.9"/></svg><div class="b" style="left:1652.2px;top:869.8px;width:15px;height:15px;border-radius:50%;background:#f7303d;"></div><svg class="ic" style="left:1670.00px;top:864.70px;width:23px;height:25px" viewBox="0 0 23 25">
<rect x="4.6" y="0" width="2.3" height="4" fill="#fff" fill-opacity=".97"/><rect x="16.100" y="0" width="2.3" height="4" fill="#fff" fill-opacity=".97"/>
<rect x="0.3" y="2.900" width="22.400" height="21.800" rx="1.800" fill="#fff" fill-opacity=".97"/>
<rect x="2.700" y="5.300" width="17.600" height="2.500" fill="#fdb905"/><rect x="2.700" y="10.200" width="17.600" height="12.200" fill="#fdb905"/></svg><span class="t" id="t74" style="left:1034.00px;top:869.61px;font-size:10.5px;line-height:10.5px;color:rgba(30,41,59,.42);letter-spacing:0.010px;">15:15 - 16:00</span><span class="t" id="t75" style="left:1034.00px;top:884.64px;font-size:12px;line-height:12px;color:#0f172a;font-weight:700;letter-spacing:0.109px;">HANA</span><span class="t" id="t76" style="left:1034.00px;top:901.42px;font-size:12.5px;line-height:12.5px;color:rgba(15,23,42,.88);letter-spacing:0.422px;">Classic Manicure</span>
<div class="b" style="left:1020px;top:975px;width:682px;height:75px;border-radius:6px;background:#7c3aed;box-shadow:0 2px 4px rgba(15,23,42,.22);"></div><div class="b" style="left:1627px;top:980px;width:20px;height:20px;border-radius:50%;background:#f4f6ff;box-shadow:0 1px 2px rgba(0,0,0,.15);"></div><svg class="ic" style="left:1630.50px;top:984.00px;width:13px;height:13px" viewBox="0 0 24 24"><path fill="#9020e6" d="M16.530 11.060L15.470 10l-4.880 4.880-2.120-2.120-1.060 1.060L10.590 17l5.940-5.940zM19 3h-1V1h-2v2H8V1H6v2H5c-1.110 0-1.990.9-1.990 2L3 19c0 1.100.89 2 2 2h14c1.100 0 2-.9 2-2V5c0-1.100-.9-2-2-2zm0 16H5V8h14v11z" stroke="#9020e6" stroke-width="0.9"/></svg><div class="b" style="left:1652.2px;top:982.3px;width:15px;height:15px;border-radius:50%;background:#f7303d;"></div><svg class="ic" style="left:1670.00px;top:977.20px;width:23px;height:25px" viewBox="0 0 23 25">
<rect x="4.6" y="0" width="2.3" height="4" fill="#fff" fill-opacity=".97"/><rect x="16.100" y="0" width="2.3" height="4" fill="#fff" fill-opacity=".97"/>
<rect x="0.3" y="2.900" width="22.400" height="21.800" rx="1.800" fill="#fff" fill-opacity=".97"/>
<rect x="2.700" y="5.300" width="17.600" height="2.500" fill="#fdb905"/><rect x="2.700" y="10.200" width="17.600" height="12.200" fill="#fdb905"/></svg><span class="t" id="t77" style="left:1034.00px;top:982.11px;font-size:10.5px;line-height:10.5px;color:rgba(30,41,59,.42);letter-spacing:0.010px;">16:45 - 17:45</span><span class="t" id="t78" style="left:1034.00px;top:998.64px;font-size:12px;line-height:12px;color:#0f172a;font-weight:700;letter-spacing:0.109px;">HANA</span><span class="t" id="t79" style="left:1034.00px;top:1015.72px;font-size:12.5px;line-height:12.5px;color:rgba(15,23,42,.88);letter-spacing:0.431px;">Acrylic Fill</span><span class="t" id="t80" style="left:1034.00px;top:1031.18px;font-size:11.6px;line-height:11.6px;color:rgba(30,41,59,.45);font-weight:700;letter-spacing:0.707px;">$45.00</span>
<div class="b" style="left:1711px;top:619px;width:683px;height:74px;border-radius:6px;border:2px solid #fae3b3;box-sizing:border-box;background:repeating-linear-gradient(45deg,#fdf5e8 0,#fdf5e8 4.2px,#fbedd8 4.6px,#fbedd8 8.3px,#dcdad5 8.7px,#dcdad5 9.7px,#fdf5e8 10px);"></div><span class="t" id="t81" style="left:1723.00px;top:631.84px;font-size:12px;line-height:12px;color:#f28f1c;font-weight:700;letter-spacing:0.629px;-webkit-text-stroke:0.3px #f28f1c;">12:00 - 13:00</span><span class="t" id="t82" style="left:1723.00px;top:648.70px;font-size:13px;line-height:13px;color:#d05a12;font-weight:700;letter-spacing:1.375px;-webkit-text-stroke:0.45px #d05a12;">LUNCH</span>
<div class="b" style="left:1711px;top:768.7px;width:683px;height:56.3px;border-radius:6px;background:#10b981;box-shadow:0 2px 4px rgba(15,23,42,.22);"></div><div class="b" style="left:2319px;top:773.7px;width:20px;height:20px;border-radius:50%;background:#f4f6ff;box-shadow:0 1px 2px rgba(0,0,0,.15);"></div><svg class="ic" style="left:2322.60px;top:777.70px;width:12.8px;height:12.8px" viewBox="0 0 24 24"><path fill="#2b59f5" d="M19 4h-1V2h-2v2H8V2H6v2H5c-1.110 0-1.990.9-1.990 2L3 20c0 1.100.89 2 2 2h14c1.100 0 2-.9 2-2V6c0-1.100-.9-2-2-2zm0 16H5V10h14v10zm0-12H5V6h14v2zm-7 5h5v5h-5z" stroke="#2b59f5" stroke-width="1.1"/></svg><div class="b" style="left:2344.2px;top:776.0px;width:15px;height:15px;border-radius:50%;background:#f7303d;"></div><svg class="ic" style="left:2362.00px;top:770.90px;width:23px;height:25px" viewBox="0 0 23 25">
<rect x="4.6" y="0" width="2.3" height="4" fill="#fff" fill-opacity=".97"/><rect x="16.100" y="0" width="2.3" height="4" fill="#fff" fill-opacity=".97"/>
<rect x="0.3" y="2.900" width="22.400" height="21.800" rx="1.800" fill="#fff" fill-opacity=".97"/>
<rect x="2.700" y="5.300" width="17.600" height="2.500" fill="#fdb905"/><rect x="2.700" y="10.200" width="17.600" height="12.200" fill="#fdb905"/></svg><span class="t" id="t83" style="left:1725.00px;top:775.81px;font-size:10.5px;line-height:10.5px;color:rgba(30,41,59,.42);letter-spacing:0.010px;">14:00 - 14:45</span><span class="t" id="t84" style="left:1725.00px;top:790.84px;font-size:12px;line-height:12px;color:#0f172a;font-weight:700;letter-spacing:0.109px;">HANA</span><span class="t" id="t85" style="left:1725.00px;top:807.62px;font-size:12.5px;line-height:12.5px;color:rgba(15,23,42,.88);letter-spacing:0.341px;">Classic Pedicure</span>
<div class="b" style="left:1711px;top:862.2px;width:683px;height:112.8px;border-radius:6px;background:#6366f1;box-shadow:0 2px 4px rgba(15,23,42,.22);"></div><div class="b" style="left:2319px;top:867.2px;width:20px;height:20px;border-radius:50%;background:#f4f6ff;box-shadow:0 1px 2px rgba(0,0,0,.15);"></div><svg class="ic" style="left:2322.50px;top:871.20px;width:13px;height:13px" viewBox="0 0 24 24"><path fill="#9020e6" d="M16.530 11.060L15.470 10l-4.880 4.880-2.120-2.120-1.060 1.060L10.590 17l5.940-5.940zM19 3h-1V1h-2v2H8V1H6v2H5c-1.110 0-1.990.9-1.990 2L3 19c0 1.100.89 2 2 2h14c1.100 0 2-.9 2-2V5c0-1.100-.9-2-2-2zm0 16H5V8h14v11z" stroke="#9020e6" stroke-width="0.9"/></svg><div class="b" style="left:2344.2px;top:869.5px;width:15px;height:15px;border-radius:50%;background:#f7303d;"></div><svg class="ic" style="left:2362.00px;top:864.40px;width:23px;height:25px" viewBox="0 0 23 25">
<rect x="4.6" y="0" width="2.3" height="4" fill="#fff" fill-opacity=".97"/><rect x="16.100" y="0" width="2.3" height="4" fill="#fff" fill-opacity=".97"/>
<rect x="0.3" y="2.900" width="22.400" height="21.800" rx="1.800" fill="#fff" fill-opacity=".97"/>
<rect x="2.700" y="5.300" width="17.600" height="2.500" fill="#fdb905"/><rect x="2.700" y="10.200" width="17.600" height="12.200" fill="#fdb905"/></svg><span class="t" id="t86" style="left:1725.00px;top:869.31px;font-size:10.5px;line-height:10.5px;color:rgba(30,41,59,.42);letter-spacing:0.010px;">15:15 - 16:45</span><span class="t" id="t87" style="left:1725.00px;top:887.34px;font-size:12px;line-height:12px;color:#0f172a;font-weight:700;letter-spacing:-0.100px;">HAZEL</span><span class="t" id="t88" style="left:1725.00px;top:907.12px;font-size:12.5px;line-height:12.5px;color:rgba(15,23,42,.88);letter-spacing:0.077px;">Bio Gel Full Set</span><span class="t" id="t89" style="left:1725.00px;top:957.18px;font-size:11.6px;line-height:11.6px;color:rgba(30,41,59,.45);font-weight:700;letter-spacing:0.707px;">$65.00</span>
<div class="b" style="left:253px;top:815px;width:66px;height:26px;border-radius:13px;background:#f5333f;box-shadow:0 3px 8px rgba(245,51,63,.35);"></div>
<span class="t" id="t90" style="left:262.00px;top:821.30px;font-size:13px;line-height:13px;color:#fff;font-weight:700;letter-spacing:0.295px;">2:42pm</span>
<div class="b" style="left:230px;top:646px;width:28px;height:58px;border-radius:14px;background:#fff;border:1px solid #e3e9f2;box-sizing:border-box;box-shadow:0 2px 6px rgba(15,23,42,.12);"></div>
<svg class="ic" style="left:234px;top:663px;width:20px;height:24px" viewBox="0 0 20 24"><polyline points="13.2,5.3 6.6,12 13.2,18.7" fill="none" stroke="#0b1220" stroke-width="2.6" stroke-linecap="square" stroke-linejoin="miter"/></svg>
<div class="b" style="left:0px;top:0px;width:2400px;height:1350px;background:rgba(15,23,42,.19);"></div>
<div class="b" style="left:1840px;top:0px;width:560px;height:1350px;background:#f8fafc;box-shadow:-8px 0 36px rgba(15,23,42,.15);"></div>
<div class="b" style="left:1840px;top:0px;width:560px;height:97px;background:#fff;"></div>
<div class="b" style="left:1840px;top:97px;width:560px;height:1px;background:#eef2f7;"></div>
<div class="b" style="left:1860px;top:24px;width:50px;height:50px;border-radius:50%;background:#f1f5f9;"></div>
<span class="t" id="t91" style="left:1878.00px;top:37.38px;font-size:22px;line-height:22px;color:#8b99b3;font-weight:700;">T</span>
<span class="t" id="t92" style="left:1925.00px;top:39.76px;font-size:18px;line-height:18px;color:#0f172a;font-weight:700;letter-spacing:-0.406px;">test 1</span>
<svg class="ic" style="left:2343px;top:33px;width:24px;height:24px" viewBox="0 0 24 24"><path d="M3.8 4.300L20.200 19.900M20.200 4.300L3.800 19.900" stroke="#3b82f6" stroke-width="2.300" fill="none"/></svg>
<span class="t" id="t93" style="left:1865.60px;top:135.99px;font-size:26px;line-height:26px;color:#0f172a;font-weight:700;letter-spacing:-0.026px;">Wednesday, 11 Mar 2026</span>
<span class="t" id="t94" style="left:1866.00px;top:175.53px;font-size:23px;line-height:23px;color:#64748b;letter-spacing:1.359px;">09:00</span>
<div class="b" style="left:2180px;top:136px;width:117px;height:35px;border-radius:17.5px;background:#eff6ff;box-shadow:0 1px 3px rgba(15,23,42,.10);"></div>
<svg class="ic" style="left:2195.10px;top:143.60px;width:20.5px;height:20.5px" viewBox="0 0 24 24"><path fill="#3b82f6" d="M19 4h-1V2h-2v2H8V2H6v2H5c-1.110 0-1.990.9-1.990 2L3 20c0 1.100.89 2 2 2h14c1.100 0 2-.9 2-2V6c0-1.100-.9-2-2-2zm0 16H5V10h14v10zm0-12H5V6h14v2zm-7 5h5v5h-5z"/></svg>
<span class="t" id="t95" style="left:2223.60px;top:146.30px;font-size:15px;line-height:15px;color:#3b82f6;font-weight:700;letter-spacing:-0.167px;">Booking</span>
<div class="b" style="left:2309px;top:135px;width:65px;height:36px;border-radius:18px;background:#fff;border:2px solid #e0e6ee;box-sizing:border-box;"></div>
<span class="t" id="t96" style="left:2325.40px;top:147.67px;font-size:11.5px;line-height:11.5px;color:#94a3b8;font-weight:700;letter-spacing:1.524px;-webkit-text-stroke:0.3px #94a3b8;">PAID</span>
<span class="t" id="t97" style="left:1865.00px;top:238.00px;font-size:13px;line-height:13px;color:#94a3b8;font-weight:700;letter-spacing:0.027px;">SERVICES · 1</span>
<div class="b" style="left:1865px;top:265px;width:510px;height:253px;border-radius:17px;background:#fff;overflow:hidden;box-shadow:0 1px 3px rgba(15,23,42,.12),0 0 0 1px rgba(226,232,240,.7);"><div style="height:5px;background:#10b981"></div></div>
<div class="b" style="left:1881px;top:280px;width:478px;height:87px;border-radius:16px;background:#fffbeb;border:1.5px solid #fde08a;box-sizing:border-box;"></div>
<svg class="ic" style="left:1897.75px;top:293.10px;width:30px;height:30px" viewBox="0 0 24 24"><path fill="#f99f10" d="M12 5.990L19.530 19H4.470L12 5.990M12 2L1 21h22L12 2zm1 14h-2v2h2v-2zm0-6h-2v4h2v-4z"/></svg>
<svg class="ic" style="left:1897.75px;top:326.90px;width:30px;height:30px" viewBox="0 0 24 24"><path fill="#f99f10" d="M12 5.990L19.530 19H4.470L12 5.990M12 2L1 21h22L12 2zm1 14h-2v2h2v-2zm0-6h-2v4h2v-4z"/></svg>
<span class="t" id="t98" style="left:1935.00px;top:292.60px;font-size:13px;line-height:13px;color:#c2621a;font-weight:700;letter-spacing:0.524px;">Past time</span>
<span class="t" id="t99" style="left:1935.00px;top:326.40px;font-size:13px;line-height:13px;color:#c2621a;font-weight:700;letter-spacing:0.435px;">Linda does not have this service in their profile</span>
<div class="b" style="left:1881px;top:393.5px;width:13px;height:13px;border-radius:50%;background:#10b981;"></div>
<span class="t" id="t100" style="left:1904.40px;top:391.61px;font-size:17px;line-height:17px;color:#0f172a;font-weight:700;letter-spacing:0.328px;">Classic Pedicure</span>
<div class="b" style="left:2063px;top:391px;width:1.6px;height:17.5px;background:#94a3b8;"></div>
<span class="t" id="t101" style="left:2071.00px;top:392.30px;font-size:15px;line-height:15px;color:#64748b;letter-spacing:0.822px;">$35.00</span>
<span class="t" id="t102" style="left:1906.60px;top:420.97px;font-size:13.5px;line-height:13.5px;color:#7b8aa4;letter-spacing:0.347px;">Nails</span>
<span class="t" id="t103" style="left:1906.60px;top:447.67px;font-size:11.5px;line-height:11.5px;color:#f43f5e;font-weight:700;letter-spacing:0.665px;">LINDA</span>
<svg class="ic" style="left:1906.10px;top:467.50px;width:30px;height:30px" viewBox="0 0 24 24"><path fill="#64748b" d="M11.990 2C6.470 2 2 6.480 2 12s4.470 10 9.990 10C17.520 22 22 17.520 22 12S17.520 2 11.990 2zM12 20c-4.420 0-8-3.580-8-8s3.580-8 8-8 8 3.580 8 8-3.580 8-8 8zm.5-13H11v6l5.250 3.150.750-1.230-4.500-2.670z"/></svg>
<span class="t" id="t104" style="left:1941.60px;top:474.90px;font-size:15px;line-height:15px;color:#64748b;font-weight:700;letter-spacing:0.672px;">09:00 (45 mins)</span>
<span class="t" id="t105" style="left:1865.00px;top:546.60px;font-size:13px;line-height:13px;color:#94a3b8;font-weight:700;letter-spacing:0.151px;">NOTES</span>
<div class="b" style="left:1865px;top:573px;width:510px;height:69px;border-radius:28px;background:#fdfbf2;border:1px solid #fdf0c4;box-sizing:border-box;"></div>
<span class="t" id="t106" style="left:1887.40px;top:598.79px;font-size:17.5px;line-height:17.5px;color:#334155;letter-spacing:0.605px;font-style:italic;">No notes available for this appointment.</span>
</body></html>
